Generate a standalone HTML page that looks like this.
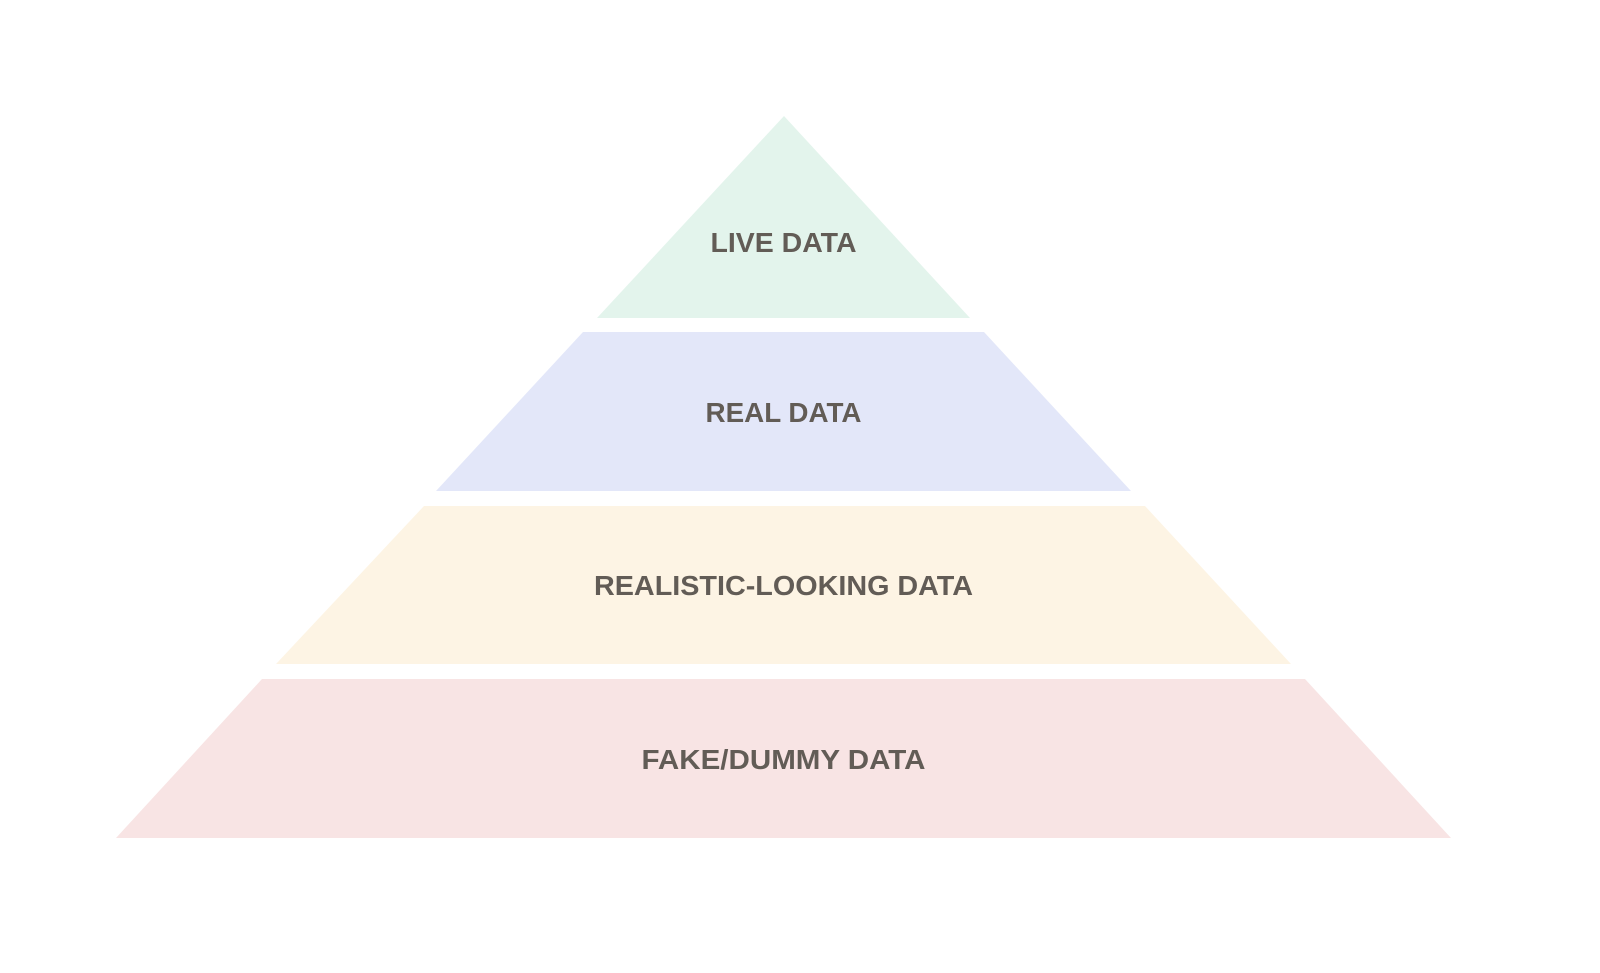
<!DOCTYPE html>
<html><head><meta charset="utf-8"><style>html,body{margin:0;padding:0;background:#fff;width:1600px;height:973px;overflow:hidden}</style></head>
<body>
<svg width="1600" height="973" viewBox="0 0 1600 973" xmlns="http://www.w3.org/2000/svg">
<polygon points="784,116 970,318 597,318" fill="#e3f4ec"/>
<polygon points="583,332 984,332 1131,491 436,491" fill="#e3e7f9"/>
<polygon points="424,506 1145,506 1291,664 276,664" fill="#fdf4e4"/>
<polygon points="262,679 1305,679 1451,838 116,838" fill="#f8e4e4"/>
<g font-family="Liberation Sans, sans-serif" font-weight="bold" font-size="28" fill="#625c56" text-anchor="middle">
<text x="783.5" y="252" textLength="146" lengthAdjust="spacingAndGlyphs">LIVE DATA</text>
<text x="783.5" y="422" textLength="156" lengthAdjust="spacingAndGlyphs">REAL DATA</text>
<text x="783.5" y="595" textLength="379" lengthAdjust="spacingAndGlyphs">REALISTIC-LOOKING DATA</text>
<text x="783.5" y="769" textLength="284" lengthAdjust="spacingAndGlyphs">FAKE/DUMMY DATA</text>
</g>
</svg>
</body></html>
